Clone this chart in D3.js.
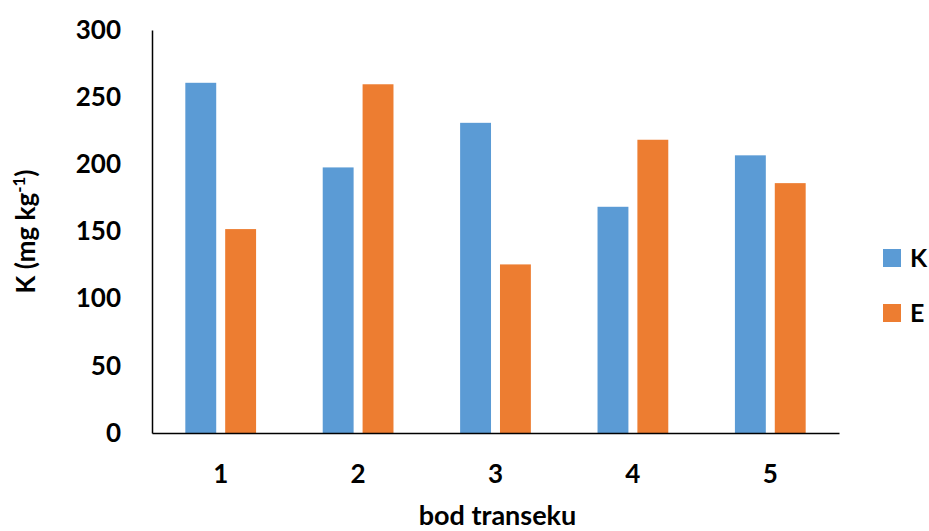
<!DOCTYPE html>
<html>
<head>
<meta charset="utf-8">
<script src="https://cdn.jsdelivr.net/npm/d3@7"></script>
<style>
  html, body { margin: 0; padding: 0; background: #fff; }
  svg { display: block; }
  text { font-family: Lato, "Open Sans", sans-serif; font-weight: bold; fill: #000; }
</style>
</head>
<body>
<svg id="chart" width="929" height="531"></svg>
<script>
// Transect points and potassium values (mg kg-1)
const categories = ["1", "2", "3", "4", "5"];
const seriesNames = ["K", "E"];
const valuesK = [260.7, 197.7, 230.9, 168.4, 206.7];
const valuesE = [151.8, 259.6, 125.5, 218.3, 186.0];
const yTicks = [0, 50, 100, 150, 200, 250, 300];
const colors = ["#5B9BD5", "#ED7D31"];

const svg = d3.select("#chart");
const margin = { left: 152, right: 90, top: 30, bottom: 98 };
const width = 929, height = 531;
const plotW = width - margin.left - margin.right;
const plotH = height - margin.top - margin.bottom;

const g = svg.append("g").attr("transform", `translate(${margin.left},${margin.top})`);

const x0 = d3.scaleBand().domain(categories).range([0, plotW]).paddingInner(0.485).paddingOuter(0.2425);
const x1 = d3.scaleBand().domain(seriesNames).range([0, x0.bandwidth()]).paddingInner(0.225);
const y = d3.scaleLinear().domain([0, 300]).range([plotH, 0]);

const data = categories.map((c, i) => ({ cat: c, vals: [
  { key: "K", value: valuesK[i] },
  { key: "E", value: valuesE[i] }
]}));

// Bars
const groups = g.selectAll("g.cat").data(data).join("g")
  .attr("class", "cat")
  .attr("transform", d => `translate(${x0(d.cat)},0)`);
groups.selectAll("rect").data(d => d.vals).join("rect")
  .attr("x", d => x1(d.key))
  .attr("y", d => y(d.value))
  .attr("width", x1.bandwidth())
  .attr("height", d => plotH - y(d.value))
  .attr("fill", (d, i) => colors[i]);

// Y axis
const yAxis = g.append("g").call(d3.axisLeft(y).tickValues(yTicks).tickSize(0).tickPadding(31));
yAxis.select(".domain").attr("stroke", "#000").attr("stroke-width", 1.5);
yAxis.selectAll("text").style("font-size", "26px").style("font-family", "Lato, sans-serif").style("font-weight", "bold");

// X axis
const xAxis = g.append("g").attr("transform", `translate(0,${plotH})`)
  .call(d3.axisBottom(x0).tickSize(0).tickPadding(32));
xAxis.select(".domain").attr("stroke", "#000").attr("stroke-width", 1.5);
xAxis.selectAll("text").style("font-size", "26px").style("font-family", "Lato, sans-serif").style("font-weight", "bold");

// Axis titles
svg.append("text")
  .attr("x", margin.left + plotW / 2 + 2)
  .attr("y", 525)
  .attr("text-anchor", "middle")
  .style("font-size", "27px")
  .text("bod transeku");

const yTitle = svg.append("text")
  .attr("transform", `translate(35,${margin.top + plotH / 2}) rotate(-90)`)
  .attr("text-anchor", "middle")
  .style("font-size", "26px");
yTitle.append("tspan").text("K (mg kg");
yTitle.append("tspan").attr("dy", -10).style("font-size", "17px").text("-1");
yTitle.append("tspan").attr("dy", 10).text(")");

// Legend
const legend = svg.append("g").attr("transform", "translate(883,249)");
seriesNames.forEach((name, i) => {
  const row = legend.append("g").attr("transform", `translate(0,${i * 55})`);
  row.append("rect").attr("width", 18).attr("height", 18).attr("fill", colors[i]);
  row.append("text").attr("x", 27).attr("y", 18).style("font-size", "25px").text(name);
});
</script>
</body>
</html>
